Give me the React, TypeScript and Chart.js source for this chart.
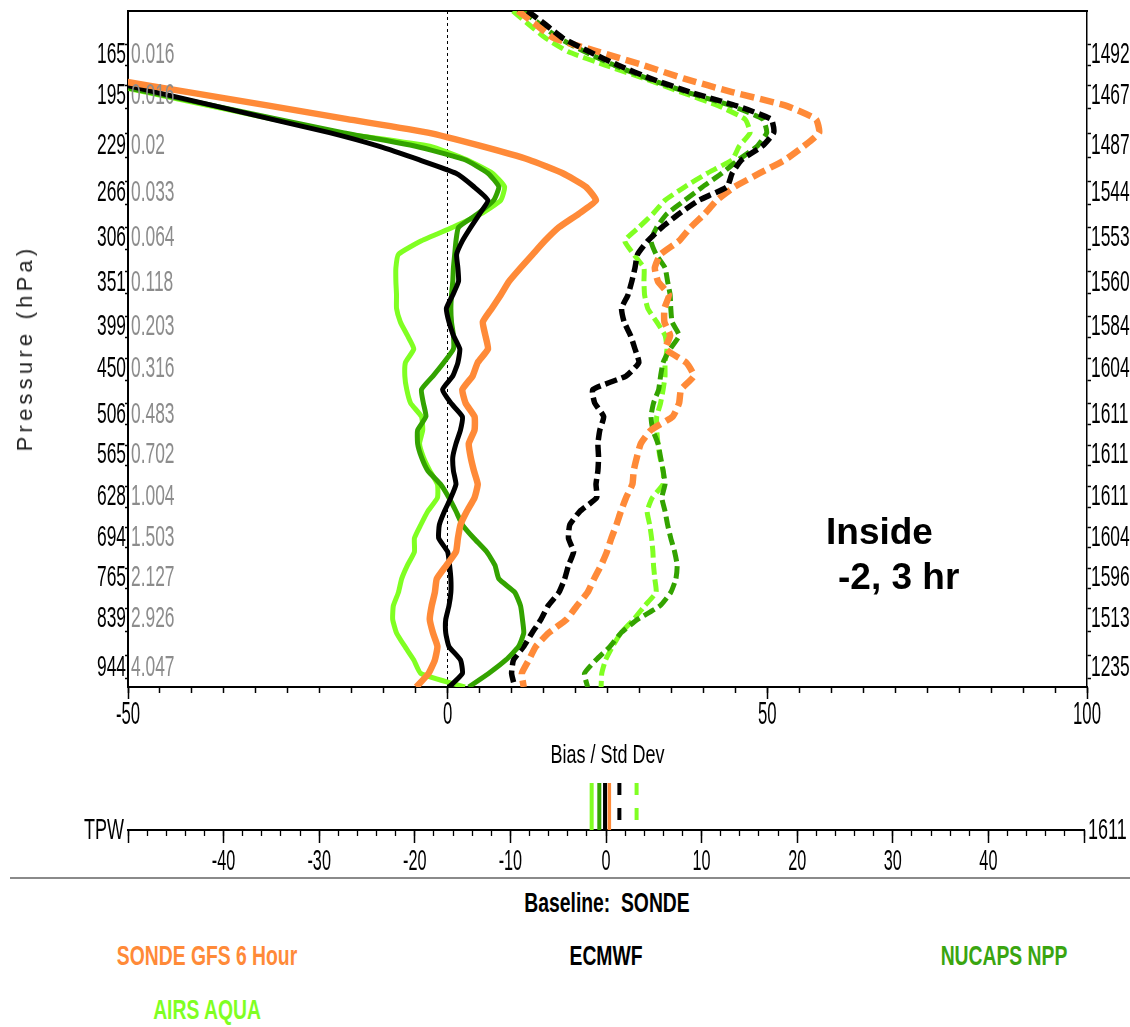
import React, { useEffect, useRef } from 'react';
import { Chart, registerables } from 'chart.js';

Chart.register(...registerables);

// ---------- data ----------
// vertical level index (0 = top of plot, 100 = surface end of plot)
const LEVELS = [0, 2, 4, 6, 8, 10, 12, 14, 16, 18, 20, 22, 24, 26, 28, 30, 32, 34, 36, 38, 40, 42, 44, 46, 48, 50,
  52, 54, 56, 58, 60, 62, 64, 66, 68, 70, 72, 74, 76, 78, 80, 82, 84, 86, 88, 90, 92, 94, 96, 98, 100];

const GFS_BIAS = [null, null, null, null, null, -53.3, -40.6, -28.0, -15.7, -3.1, 5.3, 12.7, 18.0, 21.6, 23.2, 20.5,
  17.4, 15.2, 13.3, 11.4, 9.6, 8.3, 6.9, 5.5, 5.9, 6.3, 4.7, 3.9, 2.3, 2.8, 4.2, 4.2, 3.3, 3.6, 4.1, 4.7, 4.2, 3.0,
  2.0, 1.6, 1.3, -0.2, -1.7, -2.0, -2.5, -2.8, -2.3, -1.6, -2.0, -3.0, -4.9];
const ECMWF_BIAS = [null, null, null, null, null, -54.8, -45.7, -36.6, -27.6, -18.5, -10.8, -4.5, 1.3, 4.1, 6.3, 5.0,
  3.6, 2.3, 1.4, 1.6, 1.7, 0.8, -0.2, 0.2, 0.9, 1.9, 1.6, 0.8, -0.8, 0.5, 2.3, 2.0, 1.3, 0.8, 0.9, 1.3, 0.5, -0.5,
  -1.3, -1.4, 0.0, 0.3, 0.5, 0.5, 0.2, -0.3, -0.3, 0.2, 2.0, 2.3, 0.2];
const NUCAPS_BIAS = [null, null, null, null, null, -57, -46.8, -36.6, -26.6, -16.4, -5.0, 2.7, 6.3, 8.0, 7.2, 4.7,
  1.7, 1.3, 1.1, 0.9, 0.8, 0.6, 0.5, 0.6, 0.9, 0.9, -0.6, -2.3, -4.1, -3.8, -3.4, -4.7, -4.7, -4.1, -3.1, -1.1, 0.2,
  1.3, 2.3, 4.1, 6.1, 7.4, 8.0, 10.5, 11.4, 11.7, 11.9, 11.1, 9.1, 6.4, 3.3];
const AIRS_BIAS = [null, null, null, null, null, -57, -47.3, -37.4, -27.4, -17.1, -2.8, 3.0, 7.0, 8.9, 8.3, 5.2,
  0.8, -4.1, -7.7, -8.1, -8.1, -8.0, -8.0, -7.4, -6.3, -5.3, -6.6, -6.7, -6.4, -5.8, -4.1, -3.9, -4.4, -3.8, -2.8,
  -1.6, -1.6, -3.1, -4.2, -5.2, -5.2, -6.3, -7.2, -7.7, -8.5, -8.6, -8.0, -6.7, -5.3, -4.2, 2.7];

const GFS_STD = [11.0, 13.8, 16.6, 23.5, 30.5, 37.0, 44.5, 52.9, 57.6, 58.1, 55.7, 52.8, 48.8, 44.9, 42.1, 40.2,
  38.0, 36.2, 33.3, 32.4, 32.9, 34.6, 33.9, 33.9, 34.8, 34.1, 37.3, 38.5, 36.5, 36.2, 35.2, 31.8, 30.2, 29.6, 29.1,
  28.9, 27.9, 27.1, 26.4, 25.6, 24.9, 24.0, 22.9, 21.9, 20.2, 18.6, 15.8, 13.8, 12.7, 11.6, 11.9];
const ECMWF_STD = [12.5, 15.3, 18.0, 22.1, 26.6, 31.8, 37.9, 45.1, 50.6, 51.0, 49.2, 46.0, 44.5, 43.7, 39.3, 36.2,
  33.5, 31.3, 29.7, 29.3, 28.8, 28.2, 27.2, 27.6, 28.6, 29.3, 29.9, 27.9, 22.7, 23.0, 24.4, 23.8, 23.5, 23.6, 23.5,
  23.2, 23.3, 20.7, 19.1, 18.9, 19.7, 18.9, 18.3, 17.4, 15.7, 14.6, 13.2, 11.9, 10.3, 10.0, 10.5];
const NUCAPS_STD = [11.7, 14.5, 17.4, 21.4, 26.0, 31.3, 37.4, 44.3, 49.3, 49.9, 48.4, 45.5, 42.9, 39.9, 37.1, 34.3,
  32.7, 31.8, 32.6, 34.0, 34.4, 34.8, 34.9, 35.1, 36.2, 34.8, 33.7, 33.3, 33.0, 32.2, 31.8, 32.1, 32.9, 33.3, 33.7,
  34.0, 33.5, 34.0, 34.4, 34.9, 35.5, 35.9, 35.7, 34.9, 33.2, 29.7, 27.1, 25.4, 23.2, 21.4, 21.9];
const AIRS_STD = [10.2, 12.7, 15.3, 18.8, 24.6, 30.8, 36.5, 42.3, 46.5, 47.3, 45.6, 44.5, 40.6, 37.1, 34.0, 32.1,
  29.9, 27.7, 29.1, 30.7, 30.7, 30.8, 31.3, 32.7, 34.0, 34.3, 34.0, 34.0, 33.7, 33.3, 32.7, 32.7, 32.9, 33.2, 33.7,
  33.7, 32.0, 31.2, 31.6, 31.9, 32.1, 32.2, 32.4, 32.6, 30.8, 29.1, 27.1, 25.8, 24.7, 24.1, 24.0];

const PRESSURE_LABELS = ['165', '195', '229', '266', '306', '351', '399', '450', '506', '565', '628', '694', '765', '839', '944'];
const PRESSURE_LEVELS = [6.5, 12.5, 20.0, 26.9, 33.65, 40.2, 46.8, 52.9, 59.7, 65.75, 71.9, 77.9, 83.9, 89.9, 97.2];
const WV_LABELS = ['0.016', '0.016', '0.02', '0.033', '0.064', '0.118', '0.203', '0.316', '0.483', '0.702', '1.004', '1.503', '2.127', '2.926', '4.047'];
const COUNT_LABELS = ['1492', '1467', '1487', '1544', '1553', '1560', '1584', '1604', '1611', '1611', '1611', '1604', '1596', '1513', '1235'];

const X_LABELS = [-50, 0, 50, 100];
const X_MINOR_STEP = 5;
const X_TITLE = 'Bias / Std Dev';
const Y_TITLE = 'Pressure (hPa)';

const TPW_NAMES = ['SONDE GFS 6 Hour', 'ECMWF', 'NUCAPS NPP', 'AIRS AQUA'];
const TPW_BIAS = [0.35, -0.1, -0.7, -1.5];
const TPW_STD = [null, 1.4, null, 3.2];
const TPW_TICK_LABELS = [-40, -30, -20, -10, 0, 10, 20, 30, 40];
const TPW_COUNT = '1611';

const ORANGE = '#ff8a38';
const BLACK = '#000000';
const DKGREEN = '#33a300';
const LTGREEN = '#80ff22';
const SERIES_COLORS = [ORANGE, BLACK, DKGREEN, LTGREEN];

const FONT = '"Liberation Sans", Arial, Helvetica, sans-serif';

// ---------- helpers ----------
function narrow(ctx: any, text: string, x: number, y: number, size: number, color: string, align: string, sx: number) {
  ctx.save();
  ctx.font = `${size}px ${FONT}`;
  ctx.fillStyle = color;
  ctx.textAlign = align;
  ctx.textBaseline = 'middle';
  ctx.translate(x, y);
  ctx.scale(sx, 1);
  ctx.fillText(text, 0, 0);
  ctx.restore();
}

const toPts = (vals: (number | null)[]) =>
  vals.map((v, i) => (v === null ? null : { x: v, y: LEVELS[i] })).filter((p) => p !== null);

const range = (a: number, b: number, s: number) => {
  const out: number[] = [];
  for (let v = a; v <= b + 1e-9; v += s) out.push(Math.round(v * 1000) / 1000);
  return out;
};

const yTicks = () => {
  const out: number[] = [];
  PRESSURE_LEVELS.forEach((lv, i) => {
    const prev = i > 0 ? PRESSURE_LEVELS[i - 1] : lv - 6.2;
    const next = i < PRESSURE_LEVELS.length - 1 ? PRESSURE_LEVELS[i + 1] : lv + 6.2;
    out.push(lv - (lv - prev) / 4, lv + (next - lv) / 4);
  });
  return out.filter((v) => v >= 0 && v <= 100);
};

const profileLabels = {
  id: 'profileLabels',
  afterDraw(chart: any) {
    const { ctx, scales, chartArea } = chart;
    const yL = scales.y;
    const yR = scales.yR;
    const xM = scales.xMajor;
    PRESSURE_LEVELS.forEach((lv, i) => {
      const py = yL.getPixelForValue(lv);
      narrow(ctx, PRESSURE_LABELS[i], chartArea.left - 2, py, 29, '#000', 'right', 0.6);
      narrow(ctx, WV_LABELS[i], chartArea.left + 3, py, 29, '#8c8c8c', 'left', 0.6);
      narrow(ctx, COUNT_LABELS[i], chartArea.right + 4, yR.getPixelForValue(lv), 29, '#000', 'left', 0.6);
    });
    X_LABELS.forEach((v) => narrow(ctx, String(v), xM.getPixelForValue(v), xM.top + 28, 31, '#000', 'center', 0.54));
    narrow(ctx, X_TITLE, (chartArea.left + chartArea.right) / 2, xM.top + 69, 25, '#000', 'center', 0.72);
  },
};

const tpwLabels = {
  id: 'tpwLabels',
  afterDraw(chart: any) {
    const { ctx, scales, chartArea } = chart;
    const xM = scales.xMajor;
    TPW_TICK_LABELS.forEach((v) => narrow(ctx, String(v), xM.getPixelForValue(v), xM.top + 32, 29, '#000', 'center', 0.56));
    narrow(ctx, 'TPW', chartArea.left - 4, chartArea.bottom + 1, 29, '#000', 'right', 0.62);
    narrow(ctx, TPW_COUNT, chartArea.right + 4, chartArea.bottom + 1, 29, '#000', 'left', 0.62);
  },
};

function mainConfig(): any {
  const line = (label: string, vals: (number | null)[], color: string, width: number, dash?: number[]) => ({
    label,
    data: toPts(vals),
    borderColor: color,
    backgroundColor: color,
    borderWidth: width,
    borderDash: dash || [],
    pointRadius: 0,
    pointHoverRadius: 0,
    fill: false,
    tension: 0.15,
    borderJoinStyle: 'round',
    clip: 0,
    xAxisID: 'x',
    yAxisID: 'y',
  });
  return {
    type: 'line',
    data: {
      datasets: [
        line('SONDE GFS 6 Hour bias', GFS_BIAS, ORANGE, 6.5),
        line('ECMWF bias', ECMWF_BIAS, BLACK, 5),
        line('NUCAPS NPP bias', NUCAPS_BIAS, DKGREEN, 5),
        line('AIRS AQUA bias', AIRS_BIAS, LTGREEN, 5),
        line('ECMWF std dev', ECMWF_STD, BLACK, 5.5, [12, 5]),
        line('SONDE GFS 6 Hour std dev', GFS_STD, ORANGE, 6.5, [14, 6]),
        line('NUCAPS NPP std dev', NUCAPS_STD, DKGREEN, 5, [12, 5]),
        line('AIRS AQUA std dev', AIRS_STD, LTGREEN, 5, [12, 5]),
      ],
    },
    options: {
      responsive: false,
      animation: false,
      events: [],
      layout: { padding: { top: 11, left: 0, right: 0, bottom: 0 } },
      plugins: { legend: { display: false }, tooltip: { enabled: false }, title: { display: false } },
      scales: {
        x: {
          type: 'linear', axis: 'x', position: 'bottom', min: -50, max: 100, weight: 0,
          afterBuildTicks: (s: any) => { s.ticks = range(-50, 100, X_MINOR_STEP).map((v) => ({ value: v })); },
          afterFit: (s: any) => { s.height = 0; },
          ticks: { display: false },
          grid: {
            drawOnChartArea: true, drawTicks: true, tickLength: 6,
            color: (c: any) => (c.tick && c.tick.value === 0 ? '#000' : 'rgba(0,0,0,0)'),
            lineWidth: 1, tickColor: '#000', tickWidth: 1.5,
          },
          border: { display: true, color: '#000', width: 2, dash: [3, 3] },
        },
        xMajor: {
          type: 'linear', axis: 'x', position: 'bottom', min: -50, max: 100, weight: 1,
          afterBuildTicks: (s: any) => { s.ticks = X_LABELS.map((v) => ({ value: v })); },
          afterFit: (s: any) => { s.height = 83; },
          ticks: { display: false },
          grid: { drawOnChartArea: false, drawTicks: true, tickLength: 12, color: '#000', tickColor: '#000', tickWidth: 1.5 },
          border: { display: false },
        },
        xTop: {
          type: 'linear', axis: 'x', position: 'top', min: -50, max: 100,
          afterFit: (s: any) => { s.height = 0; },
          ticks: { display: false },
          grid: { display: false },
          border: { display: true, color: '#000', width: 2 },
        },
        y: {
          type: 'linear', axis: 'y', position: 'left', min: 0, max: 100, reverse: true,
          afterBuildTicks: (s: any) => { s.ticks = yTicks().map((v) => ({ value: v })); },
          afterFit: (s: any) => { s.width = 128; },
          ticks: { display: false },
          grid: { drawOnChartArea: false, drawTicks: true, tickLength: 3, color: '#000', tickColor: '#000', tickWidth: 1.5 },
          border: { display: true, color: '#000', width: 2 },
        },
        yR: {
          type: 'linear', axis: 'y', position: 'right', min: 0, max: 100, reverse: true,
          afterBuildTicks: (s: any) => { s.ticks = yTicks().map((v) => ({ value: v })); },
          afterFit: (s: any) => { s.width = 43; },
          ticks: { display: false },
          grid: { drawOnChartArea: false, drawTicks: true, tickLength: 4, color: '#000', tickColor: '#000', tickWidth: 1.5 },
          border: { display: true, color: '#000', width: 1.5 },
        },
      },
    },
    plugins: [profileLabels],
  };
}

function tpwConfig(): any {
  const datasets: any[] = [];
  TPW_BIAS.forEach((v, i) => {
    datasets.push({
      label: TPW_NAMES[i] + ' bias',
      data: [{ x: v, y: 1 }, { x: v, y: 0 }],
      borderColor: SERIES_COLORS[i], borderWidth: i === 0 ? 3.5 : 4, pointRadius: 0, fill: false,
    });
  });
  TPW_STD.forEach((v, i) => {
    if (v === null) return;
    datasets.push({
      label: TPW_NAMES[i] + ' std dev',
      data: [{ x: v, y: 1 }, { x: v, y: 0 }],
      borderColor: SERIES_COLORS[i], borderWidth: 4, borderDash: [12, 13], pointRadius: 0, fill: false,
    });
  });
  datasets.reverse();
  return {
    type: 'line',
    data: { datasets },
    options: {
      responsive: false,
      animation: false,
      events: [],
      layout: { padding: { top: 13, left: 128, right: 46, bottom: 0 } },
      plugins: { legend: { display: false }, tooltip: { enabled: false } },
      scales: {
        x: {
          type: 'linear', axis: 'x', position: 'bottom', min: -50, max: 50, weight: 0,
          afterBuildTicks: (s: any) => { s.ticks = range(-50, 50, 2).map((v) => ({ value: v })); },
          afterFit: (s: any) => { s.height = 0; },
          ticks: { display: false },
          grid: { drawOnChartArea: false, drawTicks: true, tickLength: 6, color: '#000', tickColor: '#000', tickWidth: 1.3 },
          border: { display: true, color: '#000', width: 2 },
        },
        xMajor: {
          type: 'linear', axis: 'x', position: 'bottom', min: -50, max: 50, weight: 1,
          afterBuildTicks: (s: any) => { s.ticks = range(-50, 50, 10).map((v) => ({ value: v })); },
          afterFit: (s: any) => { s.height = 50; },
          ticks: { display: false },
          grid: { drawOnChartArea: false, drawTicks: true, tickLength: 13, color: '#000', tickColor: '#000', tickWidth: 1.5 },
          border: { display: false },
        },
        y: { type: 'linear', axis: 'y', min: 0, max: 1, display: false },
      },
    },
    plugins: [tpwLabels],
  };
}

type TxtProps = { x: number; y: number; children: any; style?: any; sx?: number; anchor?: 'center' | 'left' };
const Txt = ({ x, y, children, style, sx = 1, anchor = 'center' }: TxtProps) => (
  <div
    style={{
      position: 'absolute',
      left: x,
      top: y,
      whiteSpace: 'pre',
      lineHeight: 1,
      transform: `translate(${anchor === 'center' ? '-50%' : '0'}, -50%) scaleX(${sx})`,
      transformOrigin: anchor === 'center' ? 'center center' : 'left center',
      ...style,
    }}
  >
    {children}
  </div>
);

export default function App() {
  const mainRef = useRef<HTMLCanvasElement>(null);
  const tpwRef = useRef<HTMLCanvasElement>(null);

  useEffect(() => {
    const c1 = new Chart(mainRef.current as HTMLCanvasElement, mainConfig());
    const c2 = new Chart(tpwRef.current as HTMLCanvasElement, tpwConfig());
    return () => {
      c1.destroy();
      c2.destroy();
    };
  }, []);

  const legendStyle = { fontSize: 28, fontWeight: 'bold', fontFamily: FONT };

  return (
    <div style={{ position: 'absolute', left: 0, top: 0, width: 1130, height: 1027, background: '#fff', overflow: 'hidden', fontFamily: FONT }}>
      <canvas ref={mainRef} width={1130} height={770} style={{ position: 'absolute', left: 0, top: 0 }} />
      <canvas ref={tpwRef} width={1130} height={110} style={{ position: 'absolute', left: 0, top: 770 }} />

      <div
        style={{
          position: 'absolute', left: 25, top: 348, whiteSpace: 'nowrap', lineHeight: 1,
          transform: 'translate(-50%, -50%) rotate(-90deg)', fontSize: 22, letterSpacing: '4.2px', color: '#222',
        }}
      >
        {Y_TITLE}
      </div>

      <Txt x={826} y={531} anchor="left" style={{ fontSize: 37, fontWeight: 'bold', color: '#000' }}>Inside</Txt>
      <Txt x={838} y={576} anchor="left" style={{ fontSize: 37, fontWeight: 'bold', color: '#000' }}>-2, 3 hr</Txt>

      <div style={{ position: 'absolute', left: 10, top: 877, width: 1120, height: 2, background: '#8a8a8a' }} />

      <Txt x={607} y={903} sx={0.69} style={{ ...legendStyle, color: '#000' }}>{'Baseline:  SONDE'}</Txt>
      <Txt x={207} y={956} sx={0.69} style={{ ...legendStyle, color: ORANGE }}>{TPW_NAMES[0]}</Txt>
      <Txt x={606} y={956} sx={0.69} style={{ ...legendStyle, color: '#000' }}>{TPW_NAMES[1]}</Txt>
      <Txt x={1004} y={956} sx={0.69} style={{ ...legendStyle, color: '#3aa510' }}>{TPW_NAMES[2]}</Txt>
      <Txt x={207} y={1010} sx={0.69} style={{ ...legendStyle, color: LTGREEN }}>{TPW_NAMES[3]}</Txt>
    </div>
  );
}
